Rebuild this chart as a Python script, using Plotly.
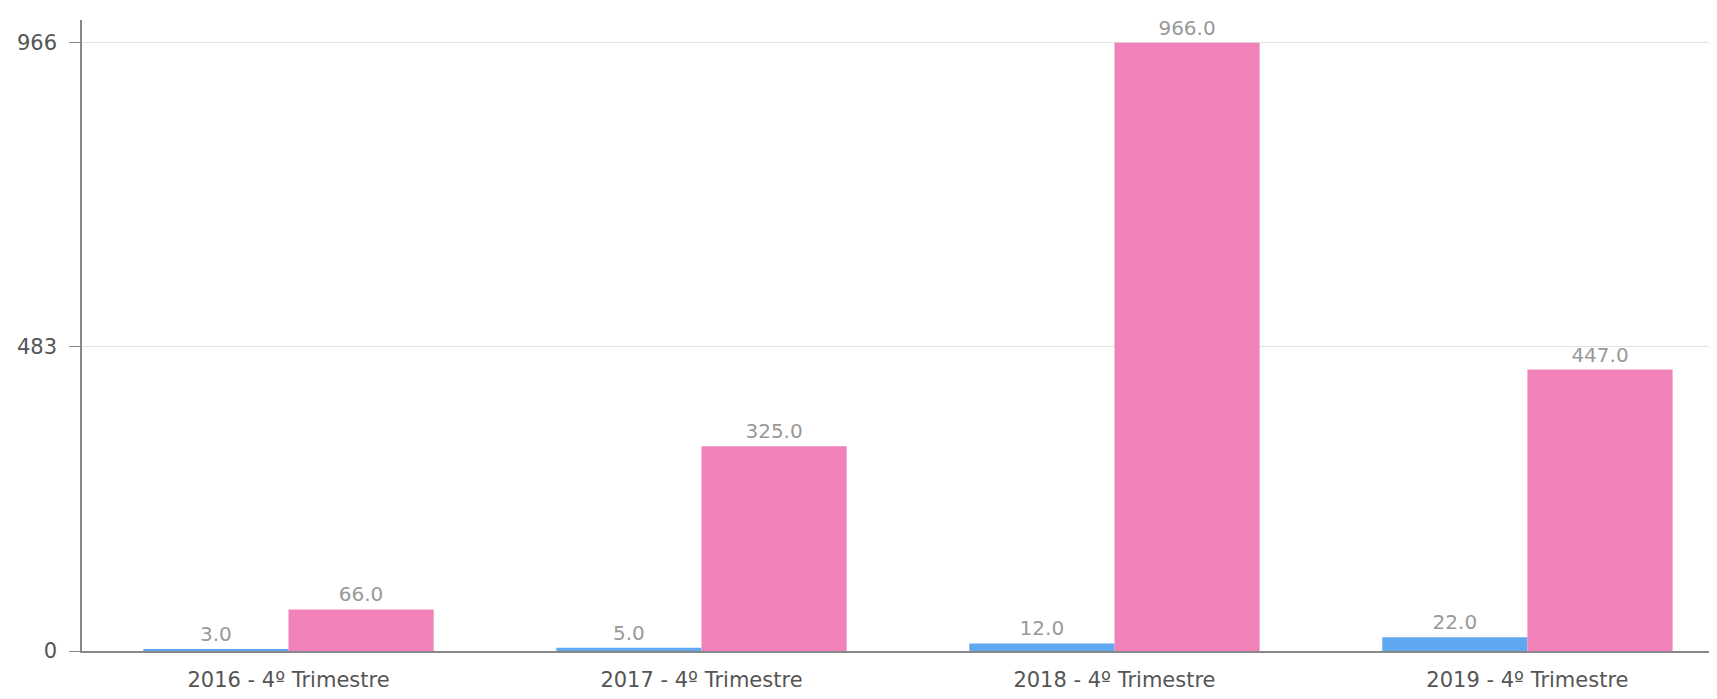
import plotly.graph_objects as go

categories = ["2016 - 4º Trimestre", "2017 - 4º Trimestre", "2018 - 4º Trimestre", "2019 - 4º Trimestre"]
series_a = [3.0, 5.0, 12.0, 22.0]
series_b = [66.0, 325.0, 966.0, 447.0]
y_ticks = [0, 483, 966]

label_font = dict(color="#999999", size=20, family="DejaVu Sans")

fig = go.Figure()
fig.add_trace(go.Bar(x=categories, y=series_a,
                     marker=dict(color="#5fa8f0", line=dict(width=30, color="rgba(0,0,0,0)")),
                     texttemplate="%{y:.1f}", textposition="outside", cliponaxis=False,
                     textfont=label_font, showlegend=False))
fig.add_trace(go.Bar(x=categories, y=series_b,
                     marker=dict(color="#f181b9", line=dict(width=30, color="rgba(0,0,0,0)")),
                     texttemplate="%{y:.1f}", textposition="outside", cliponaxis=False,
                     textfont=label_font, showlegend=False))

fig.update_layout(
    width=1709, height=683,
    margin=dict(l=74, r=0, t=12, b=40),
    barmode="group", bargap=0.297, bargroupgap=0,
    plot_bgcolor="white", paper_bgcolor="white",
    font=dict(family="DejaVu Sans", size=21, color="#555555"),
)
fig.update_xaxes(range=[-0.5, 3.459], automargin=False,
                 showline=True, linecolor="#888888", linewidth=1.5, showgrid=False,
                 ticks="outside", ticklen=9, tickcolor="rgba(0,0,0,0)",
                 tickfont=dict(size=21, color="#555555"))
fig.update_yaxes(range=[0, 1002], tickvals=y_ticks, ticktext=[str(v) for v in y_ticks],
                 automargin=False,
                 showline=True, linecolor="#888888", linewidth=1.5, showgrid=True, gridcolor="#e3e3e3",
                 ticks="outside", ticklen=11, tickcolor="#888888", zeroline=False,
                 ticklabelstandoff=8,
                 tickfont=dict(size=21, color="#555555"))

fig.write_html("out.html")
